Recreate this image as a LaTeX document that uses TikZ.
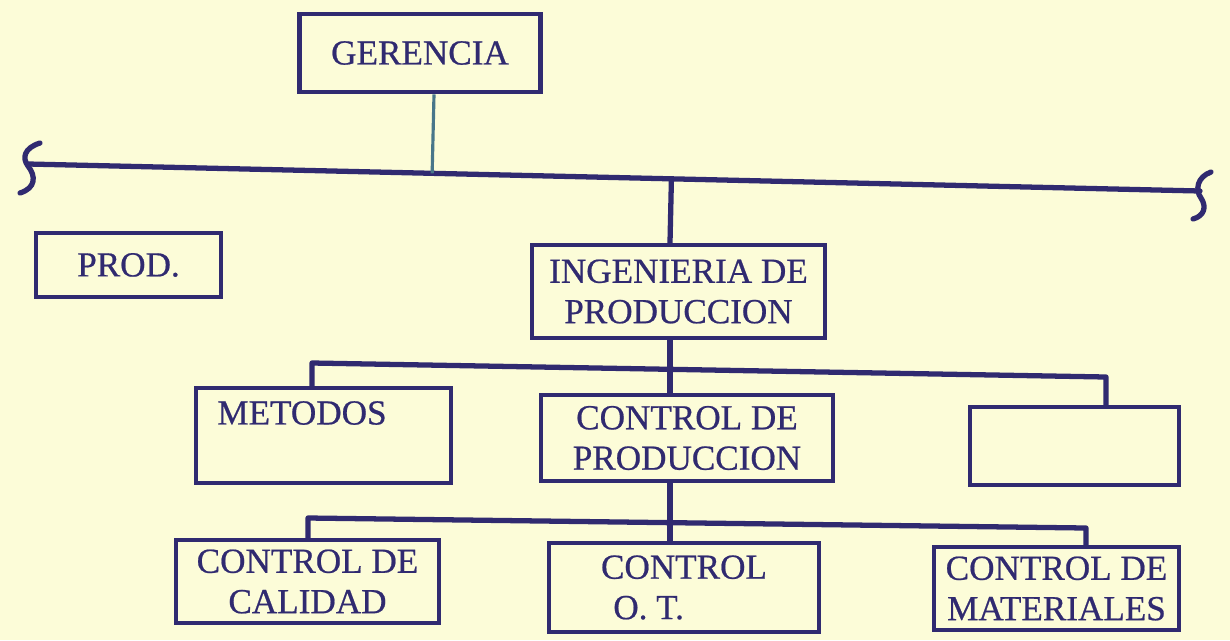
\documentclass[tikz,border=0pt]{standalone}
\usepackage{fontspec}
\setmainfont{Liberation Serif}
\newfontfamily\sello[FakeBold=0.6]{Liberation Serif}
\usepackage{tikz}
\usetikzlibrary{calc, positioning}

\definecolor{tinta}{RGB}{48,42,112}
\definecolor{verdoso}{RGB}{72,118,138}
\definecolor{papel}{RGB}{252,252,216}

\tikzset{
  caja/.style n args={2}{draw=tinta, line width=2.8pt, text=tinta, align=center,
    inner sep=2pt, minimum width=#1*0.02cm, minimum height=#2*0.02cm},
  barra/.style={draw=tinta, line width=3pt, line join=round, line cap=round},
}

\begin{document}
\begin{tikzpicture}[x=0.02cm, y=-0.02cm, font=\sello\fontsize{20}{23}\selectfont]
  \fill[papel] (0,0) rectangle (1230,640);
  \useasboundingbox (0,0) rectangle (1230,640);

  % cajas
  \node[caja={241}{78}] (gerencia) at (420,53) {GERENCIA};
  \node[caja={185}{64}] (prod) at (128.5,265) {PROD.};
  \node[caja={293}{93}] (ingprod) at (678.5,291.5) {INGENIERIA DE\\PRODUCCION};
  \node[caja={255}{95}] (metodos) at (323.5,435.5) {};
  \node[text=tinta] (metodostxt) at (302,413) {METODOS};
  \node[caja={292}{86}] (ctrlprod) at (687,438) {CONTROL DE\\PRODUCCION};
  \node[caja={209}{78}] (vacio) at (1074.5,446) {};
  \node[caja={263}{83}] (calidad) at (307.5,581.5) {CONTROL DE\\CALIDAD};
  \node[caja={270}{89}, align=left] (ot) at (684,587.5) {CONTROL\\\hspace{0.35em}O.\ T.};
  \node[caja={245}{83}] (materiales) at (1056.5,588.5) {CONTROL DE\\MATERIALES};

  % linea superior
  \coordinate (arribaL) at (28,164);
  \coordinate (arribaR) at (1200,191);
  \coordinate (eje) at (670,0);
  \draw[barra] (arribaL) -- (arribaR);
  \draw[barra] (40,143) .. controls (24,148) and (22,158) .. (28,166)
    .. controls (36,176) and (36,188) .. (20,193);
  \draw[barra] (1211,172) .. controls (1197,177) and (1195,190) .. (1201,198)
    .. controls (1207,207) and (1204,216) .. (1193,219);

  \coordinate (gbase) at ([xshift=0.28cm]gerencia.south);
  \draw[verdoso, line width=1.8pt] (gbase) -- ($(arribaL)!(gbase)!(arribaR)$);
  \coordinate (ingtope) at (ingprod.north -| eje);
  \draw[barra] (ingtope) -- ($(arribaL)!(ingtope)!(arribaR)$);

  % segundo nivel
  \coordinate (medioL) at (312,363);
  \coordinate (medioR) at (1106,377);
  \draw[barra] (metodos.north -| medioL) -- (medioL) -- (medioR) -- (vacio.north -| medioR);
  \draw[barra] (ingprod.south -| eje) -- (ctrlprod.north -| eje);

  % tercer nivel
  \coordinate (bajoL) at (308,518);
  \coordinate (bajoR) at (1086,528);
  \draw[barra] (calidad.north -| bajoL) -- (bajoL) -- (bajoR) -- (materiales.north -| bajoR);
  \draw[barra] (ctrlprod.south -| eje) -- (ot.north -| eje);
\end{tikzpicture}
\end{document}
